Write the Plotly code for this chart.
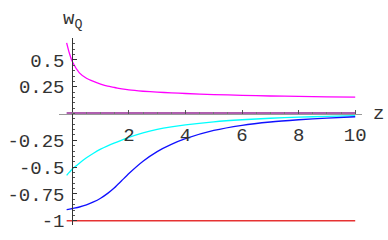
import plotly.graph_objects as go

z = [-0.2, -0.1, 0, 0.25, 0.5, 0.75, 1, 1.25, 1.5, 1.75, 2, 2.5, 3, 3.5, 4, 5, 6, 7, 8, 9, 10]
w_magenta = [0.66, 0.56, 0.485, 0.38, 0.33, 0.30, 0.275, 0.255, 0.243, 0.23, 0.22, 0.208, 0.20, 0.193, 0.187, 0.177, 0.17, 0.164, 0.16, 0.156, 0.153]
w_cyan = [-0.577, -0.547, -0.518, -0.463, -0.413, -0.37, -0.332, -0.301, -0.273, -0.247, -0.222, -0.18, -0.148, -0.124, -0.105, -0.077, -0.058, -0.044, -0.034, -0.026, -0.02]
w_blue = [-0.897, -0.892, -0.886, -0.872, -0.852, -0.825, -0.79, -0.745, -0.69, -0.625, -0.56, -0.445, -0.355, -0.288, -0.235, -0.158, -0.11, -0.079, -0.058, -0.042, -0.03]
w_zero = [0.0] * len(z)
w_minus1 = [-1.0] * len(z)

xticks = [2, 4, 6, 8, 10]
xtick_text = ["2", "4", "6", "8", "10"]
yticks = [0.5, 0.25, -0.25, -0.5, -0.75, -1]
ytick_text = ["0.5", "0.25", "-0.25", "-0.5", "-0.75", "-1"]

xr = [-0.47, 10.24]
yr = [-1.04, 0.705]

fig = go.Figure()
fig.add_trace(go.Scatter(x=z, y=w_zero, mode="lines", line=dict(color="rgb(175,95,175)", width=3)))
fig.add_trace(go.Scatter(x=z, y=w_minus1, mode="lines", line=dict(color="rgb(230,50,50)", width=1.5)))
fig.add_trace(go.Scatter(x=z, y=w_magenta, mode="lines", line=dict(color="#ff00ff", width=1.3, shape="spline", smoothing=0.6)))
fig.add_trace(go.Scatter(x=z, y=w_cyan, mode="lines", line=dict(color="#00ffff", width=1.3, shape="spline", smoothing=0.6)))
fig.add_trace(go.Scatter(x=z, y=w_blue, mode="lines", line=dict(color="#1010ff", width=1.3, shape="spline", smoothing=0.6)))

xpos = (0 - yr[0]) / (yr[1] - yr[0])
ypos = (0 - xr[0]) / (xr[1] - xr[0])
font = dict(family="Liberation Mono, Courier New, monospace", size=19, color="#333")

fig.update_layout(
    width=388, height=240,
    margin=dict(l=59, r=26, t=38, b=15),
    paper_bgcolor="white", plot_bgcolor="white",
    showlegend=False,
    hovermode=False,
    xaxis=dict(range=xr, anchor="free", position=xpos, showgrid=False, zeroline=False, automargin=False,
               showline=True, linecolor="#999", linewidth=1,
               tickvals=xticks, ticktext=xtick_text, ticks="inside", ticklen=4, tickcolor="#555",
               minor=dict(dtick=0.5, ticks="inside", ticklen=2, tickcolor="#777"),
               tickfont=font, ticklabelstandoff=4),
    yaxis=dict(range=yr, anchor="free", position=ypos, showgrid=False, zeroline=False, automargin=False,
               showline=True, linecolor="#333", linewidth=1,
               tickvals=yticks, ticktext=ytick_text, ticks="inside", ticklen=4, tickcolor="#333",
               minor=dict(dtick=0.05, ticks="inside", ticklen=2, tickcolor="#555"),
               tickfont=font, ticklabelstandoff=4),
    annotations=[
        dict(x=0, y=1.0, xref="x", yref="paper", yshift=18, text="w<sub>Q</sub>", showarrow=False,
             xanchor="center", yanchor="middle", font=font),
        dict(x=1.0, y=0, xref="paper", yref="y", xshift=16, text="z", showarrow=False,
             xanchor="center", yanchor="middle", font=font),
    ],
)

fig.write_html("out.html", config={"displayModeBar": False, "staticPlot": True},
               post_script="document.body.style.margin='0';")
